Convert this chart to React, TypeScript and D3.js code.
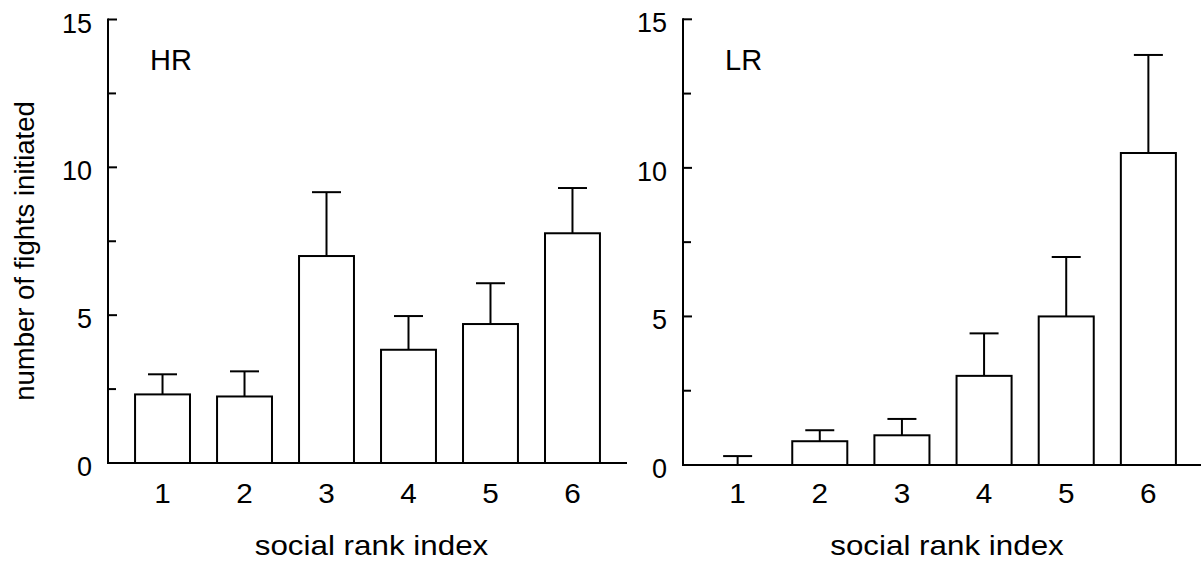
import * as d3 from 'd3'

const ranks = [1, 2, 3, 4, 5, 6]
const hrMeans = [2.32, 2.25, 7.0, 3.83, 4.7, 7.77]
const hrUpper = [3.0, 3.1, 9.16, 4.97, 6.08, 9.3]
const lrMeans = [0, 0.8, 1.0, 3.0, 5.0, 10.5]
const lrUpper = [0.3, 1.17, 1.55, 4.43, 7.0, 13.8]
const majorTicks = [0, 5, 10, 15]
const minorTicks = [2.5, 7.5, 12.5]

const FONT = "'Liberation Sans', Arial, sans-serif"

interface PanelProps {
  label: string
  means: number[]
  upper: number[]
  left: number
  top: number
  bottom: number
  right: number
}

function Panel({ label, means, upper, left, top, bottom, right }: PanelProps) {
  const y = d3.scaleLinear().domain([0, 15]).range([bottom, top])
  const x = d3.scaleLinear().domain([1 - 0.665, 6 + 0.665]).range([left, right])
  const bw = x(1.67) - x(1) // bar width in px
  const cap = 14.5
  return (
    <g fontFamily={FONT} fill="#000">
      {ranks.map((r, i) => (
        <g key={r}>
          <line x1={x(r)} x2={x(r)} y1={y(means[i])} y2={y(upper[i])} stroke="#000" strokeWidth={2} />
          <line x1={x(r) - cap} x2={x(r) + cap} y1={y(upper[i])} y2={y(upper[i])} stroke="#000" strokeWidth={2} />
          <rect x={x(r) - bw / 2} width={bw} y={y(means[i])} height={y(0) - y(means[i])}
            fill="#fff" stroke="#000" strokeWidth={2} />
          <text transform={`translate(${x(r)},503) scale(1.1,1)`} textAnchor="middle" fontSize={27}>{r}</text>
        </g>
      ))}
      <line x1={left} x2={left} y1={y(15) - 1} y2={bottom + 1} stroke="#000" strokeWidth={2} />
      <line x1={left - 1} x2={right} y1={bottom} y2={bottom} stroke="#000" strokeWidth={2} />
      {majorTicks.map(t => (
        <g key={t}>
          <line x1={left} x2={left + 9} y1={y(t)} y2={y(t)} stroke="#000" strokeWidth={2} />
          <text x={left - 16} y={y(t) + 13} textAnchor="end" fontSize={27}>{t}</text>
        </g>
      ))}
      {minorTicks.map(t => (
        <line key={t} x1={left} x2={left + 8} y1={y(t)} y2={y(t)} stroke="#000" strokeWidth={2} />
      ))}
      <text x={left + 42} y={70} fontSize={29}>{label}</text>
      <text transform={`translate(${(left + right) / 2 + 4},555) scale(1.12,1)`} textAnchor="middle" fontSize={28}>
        social rank index
      </text>
    </g>
  )
}

export default function App() {
  return (
    <svg width={1201} height={562} style={{ position: 'absolute', left: 0, top: 0, background: '#fff' }}>
      <rect width={1201} height={562} fill="#fff" />
      <Panel label="HR" means={hrMeans} upper={hrUpper} left={108} top={19.5} bottom={463} right={627} />
      <Panel label="LR" means={lrMeans} upper={lrUpper} left={683} top={19.3} bottom={465} right={1203} />
      <text transform="translate(34,251) rotate(-90)" textAnchor="middle" fontSize={27.5} fontFamily={FONT}>
        number of fights initiated
      </text>
    </svg>
  )
}
